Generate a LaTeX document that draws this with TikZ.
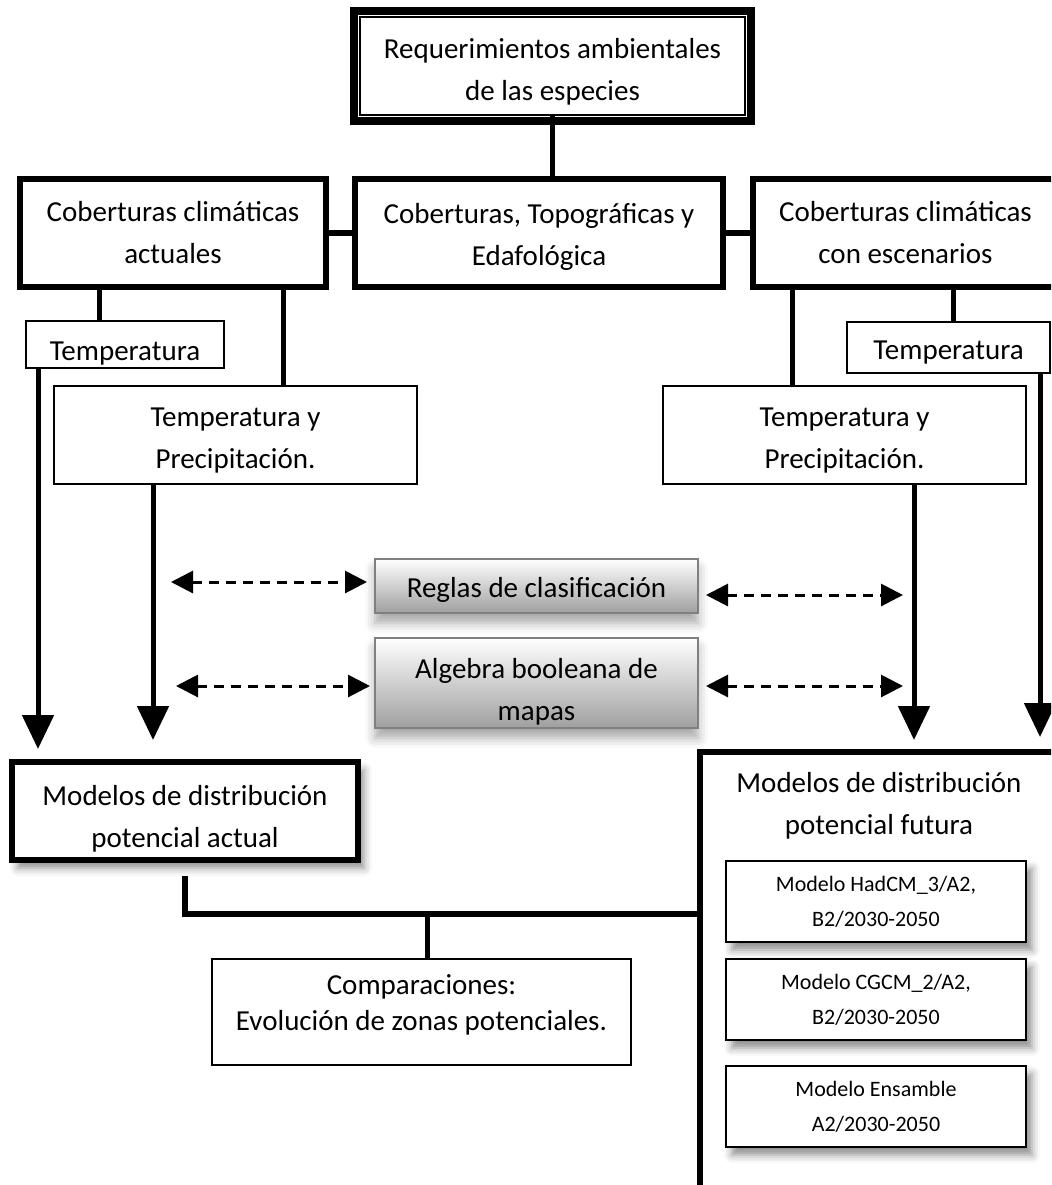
\documentclass[tikz,border=0pt]{standalone}
\usepackage{fontspec}
\setmainfont{Carlito}
\usetikzlibrary{arrows.meta,shadows.blur}
\newcommand{\topgap}[1]{\rule{0pt}{#1}}
\newcommand{\botgap}[1]{\rule[-#1]{0pt}{#1}}
\tikzset{
  txt/.style={font=\fontsize{14.5}{21}\selectfont, align=center, inner sep=0pt},
  plainbox/.style={txt, draw, line width=1pt, fill=white},
  heavybox/.style={txt, draw, line width=3pt, fill=white},
  subbox/.style={plainbox, font=\fontsize{11}{17.5}\selectfont, minimum width=150pt, minimum height=40.5pt},
  greybox/.style={txt, draw=gray, line width=1pt, top color=white, bottom color=gray!75, minimum width=161.5pt},
  softshadow/.style={blur shadow={shadow xshift=3pt, shadow yshift=-4pt, shadow blur radius=4pt, shadow opacity=45}},
  lowshadow/.style={blur shadow={shadow xshift=0pt, shadow yshift=-5pt, shadow blur radius=5pt, shadow opacity=35}},
  link/.style={line width=2.5pt},
  bigarrow/.style={line width=2.5pt, -{Triangle[width=15.5pt,length=17pt]}},
  dasharrow/.style={line width=1.5pt, dash pattern=on 5pt off 3.5pt, {Triangle[width=11pt,length=11pt]}-{Triangle[width=11pt,length=11pt]}}
}
\begin{document}
\begin{tikzpicture}[x=0.5pt, y=-0.5pt]
	\useasboundingbox (0,0) rectangle (1051,1185);
	\clip (0,0) rectangle (1051,1185);
	\node[plainbox, line width=0.75pt, minimum width=192.5pt, minimum height=49pt] (req) at (552.5,66) {\topgap{15.5pt}Requerimientos ambientales\\de las especies};
	\draw[line width=4pt] ([shift={(-5,5)}]req.south west) rectangle ([shift={(5,-5)}]req.north east);
	\node[heavybox, minimum width=153pt, minimum height=54pt] (cla) at (173,233) {Coberturas climáticas\\actuales};
	\node[heavybox, minimum width=184pt, minimum height=54pt] (ctop) at (539,233) {\topgap{13.5pt}Coberturas, Topográficas y\\Edafológica};
	\node[heavybox, minimum width=152.5pt, minimum height=54pt] (cra) at (905.5,233) {Coberturas climáticas\\con escenarios};
	\draw[link] (req.south) -- (req.south |- ctop.north);
	\draw[line width=3pt] (cla.east) -- (ctop.west);
	\draw[line width=3pt] (ctop.east) -- (cra.west);
	\node[plainbox, minimum width=99pt, minimum height=23.5pt, text height=15.5pt, text depth=0pt] (tl) at (125,344.5) {Temperatura};
	\node[plainbox, minimum width=101.5pt, minimum height=25.5pt, text height=11.5pt, text depth=0pt] (tr) at (948.5,347.5) {Temperatura};
	\node[plainbox, minimum width=181.5pt, minimum height=49pt] (tpl) at (235.5,435) {\topgap{14.5pt}Temperatura y\\Precipitación.};
	\node[plainbox, minimum width=181.5pt, minimum height=49pt] (tpr) at (844.5,435) {\topgap{14.5pt}Temperatura y\\Precipitación.};
	\draw[link] ([xshift=-37pt]cla.south) -- ([xshift=-37pt]cla.south |- tl.north);
	\draw[link] ([xshift=55pt]cla.south) -- ([xshift=55pt]cla.south |- tpl.north);
	\draw[link] ([xshift=-56.75pt]cra.south) -- ([xshift=-56.75pt]cra.south |- tpr.north);
	\draw[link] ([xshift=23.75pt]cra.south) -- ([xshift=23.75pt]cra.south |- tr.north);
	\node[greybox, lowshadow, minimum height=27pt, text height=11.5pt, text depth=0pt] (reg) at (536.5,586) {Reglas de clasificación};
	\node[greybox, lowshadow, minimum height=45pt] (alg) at (536.5,683) {\topgap{18.5pt}Algebra booleana de\\mapas};
	\coordinate (rl) at (171,582);
	\coordinate (rr) at (903,595);
	\coordinate (al) at (176,686);
	\coordinate (ar) at (903,686);
	\draw[dasharrow, shorten >=3.5pt] (rl) -- (rl -| reg.west);
	\draw[dasharrow, shorten <=3.5pt] (reg.east |- rr) -- (rr);
	\draw[dasharrow, shorten >=2pt] (al) -- (al -| alg.west);
	\draw[dasharrow, shorten <=3.5pt] (alg.east |- ar) -- (ar);
	\node[heavybox, softshadow, minimum width=173pt, minimum height=49pt] (mact) at (185,811) {\topgap{17.5pt}Modelos de distribución\\potencial actual};
	\node[draw, line width=3pt, minimum width=185pt, minimum height=224pt] (mfut) at (885,976) {};
	\node[txt] (mfutt) at (879,806) {Modelos de distribución\\potencial futura};
	\draw[bigarrow, shorten >=5pt] ([xshift=-43.5pt]tl.south) -- ([xshift=-43.5pt]tl.south |- mact.north);
	\draw[bigarrow, shorten >=9.5pt] ([xshift=-41.25pt]tpl.south) -- ([xshift=-41.25pt]tpl.south |- mact.north);
	\draw[bigarrow, shorten >=4.5pt] ([xshift=34.75pt]tpr.south) -- ([xshift=34.75pt]tpr.south |- mfut.north);
	\draw[bigarrow, shorten >=6pt] ([xshift=45.75pt]tr.south) -- ([xshift=45.75pt]tr.south |- mfut.north);
	\node[subbox, softshadow] (had) at (876,901.5) {Modelo HadCM\_3/A2,\\B2/2030-2050};
	\node[subbox, softshadow] (cgc) at (876,999.5) {Modelo CGCM\_2/A2,\\B2/2030-2050};
	\node[subbox, softshadow] (ens) at (876,1106.5) {Modelo Ensamble\\A2/2030-2050};
	\node[plainbox, minimum width=209.5pt, minimum height=53pt, font=\fontsize{14.5}{18.3}\selectfont] (comp) at (421.5,1012) {Comparaciones:\\Evolución de zonas potenciales.\botgap{9.6pt}};
	\coordinate (join) at (427,914);
	\draw[line width=3pt, shorten <=6.5pt] (mact.south) |- (join) -- (join -| mfut.west);
	\draw[link] (join) -- (join |- comp.north);
\end{tikzpicture}
\end{document}
